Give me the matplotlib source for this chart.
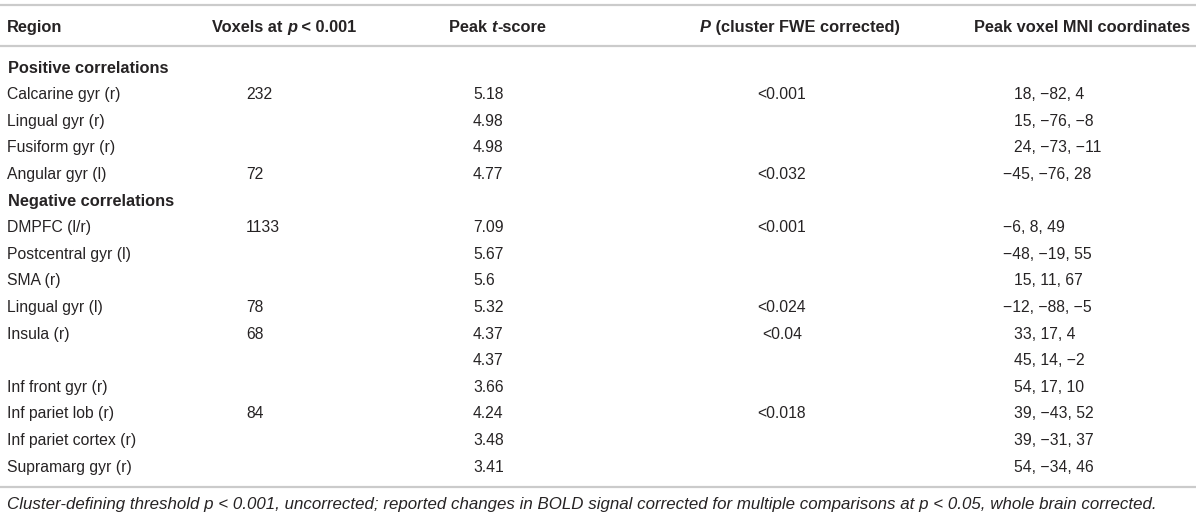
import matplotlib
matplotlib.use('Agg')
import matplotlib.pyplot as plt

plt.rcParams['font.family'] = ['Liberation Sans', 'DejaVu Sans']

# 表格数据
pos_regions = ['Calcarine gyr (r)', 'Lingual gyr (r)', 'Fusiform gyr (r)', 'Angular gyr (l)']
pos_voxels = ['232', '', '', '72']
pos_t = [5.18, 4.98, 4.98, 4.77]
pos_p = ['<0.001', '', '', '<0.032']
pos_coords = ['18, \u221282, 4', '15, \u221276, \u22128', '24, \u221273, \u221211', '\u221245, \u221276, 28']

neg_regions = ['DMPFC (l/r)', 'Postcentral gyr (l)', 'SMA (r)', 'Lingual gyr (l)', 'Insula (r)', '',
               'Inf front gyr (r)', 'Inf pariet lob (r)', 'Inf pariet cortex (r)', 'Supramarg gyr (r)']
neg_voxels = ['1133', '', '', '78', '68', '', '', '84', '', '']
neg_t = [7.09, 5.67, 5.6, 5.32, 4.37, 4.37, 3.66, 4.24, 3.48, 3.41]
neg_p = ['<0.001', '', '', '<0.024', '<0.04', '', '', '<0.018', '', '']
neg_coords = ['\u22126, 8, 49', '\u221248, \u221219, 55', '15, 11, 67', '\u221212, \u221288, \u22125',
              '33, 17, 4', '45, 14, \u22122', '54, 17, 10', '39, \u221243, 52', '39, \u221231, 37',
              '54, \u221234, 46']

sections = [('Positive correlations', pos_regions, pos_voxels, pos_t, pos_p, pos_coords),
            ('Negative correlations', neg_regions, neg_voxels, neg_t, neg_p, neg_coords)]

footnote = ('Cluster-defining threshold p < 0.001, uncorrected; reported changes in BOLD signal '
            'corrected for multiple comparisons at p < 0.05, whole brain corrected.')

TXT = '#262324'
LINE = '#cbcbcb'
FS = 11.3     # 正文
FSB = 11.8    # 表头
FSN = 12.2    # 脚注
BL = 5.6      # 行中心到基线的偏移(px)

fig = plt.figure(figsize=(12, 5.18), dpi=100)
ax = fig.add_axes([0, 0, 1, 1])
ax.set_xlim(0, 1200)
ax.set_ylim(518, 0)
ax.axis('off')
renderer = fig.canvas.get_renderer()


def txt(x, y, s, **kw):
    kw.setdefault('fontsize', FS)
    return ax.text(x, y + BL, s, color=TXT, va='baseline', **kw)


def put(x, y, segs, weight='normal', size=FS):
    # 分段写文字（部分斜体）
    for s, style in segs:
        t = txt(x, y, s, fontsize=size, fontweight=weight, fontstyle=style, ha='left')
        bb = t.get_window_extent(renderer).transformed(ax.transData.inverted())
        x = bb.x1


for yy in [5, 46, 487]:
    ax.plot([0, 1196], [yy, yy], color=LINE, lw=1.6, solid_capstyle='butt')

hy = 26
put(7, hy, [('Region', 'normal')], weight='bold', size=FSB)
put(212, hy, [('Voxels at ', 'normal'), ('p', 'italic'), (' < 0.001', 'normal')], weight='bold', size=FSB)
put(449, hy, [('Peak ', 'normal'), ('t', 'italic'), ('-score', 'normal')], weight='bold', size=FSB)
put(700, hy, [('P', 'italic'), (' (cluster FWE corrected)', 'normal')], weight='bold', size=FSB)
put(974, hy, [('Peak voxel MNI coordinates', 'normal')], weight='bold', size=FSB)

y0 = 67
step = 26.6
i = 0
for title, regs, vox, ts, ps, cs in sections:
    y = y0 + step * i
    txt(8, y, title, fontsize=FSB, fontweight='bold', ha='left')
    i += 1
    for r, v, t, p, c in zip(regs, vox, ts, ps, cs):
        y = y0 + step * i
        txt(7, y, r, ha='left')
        txt(246, y, v, ha='left')
        txt(473, y, f'{t:g}', ha='left')
        txt(782, y, p, ha='center')
        cx = 1003 if c.startswith('\u2212') else 1014
        txt(cx, y, c, ha='left')
        i += 1

txt(7, 503, footnote, fontsize=FSN, fontstyle='italic', ha='left')

plt.savefig('out.png', dpi=100)
